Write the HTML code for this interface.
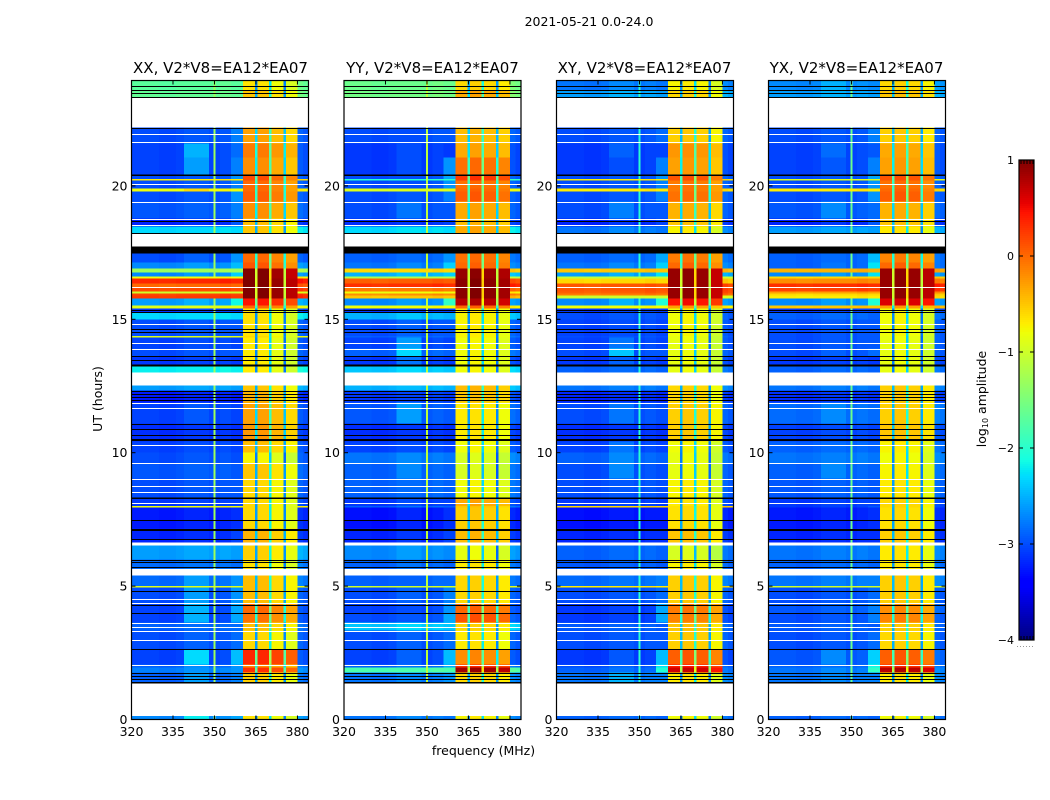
<!DOCTYPE html>
<html lang="en">
<head>
<meta charset="utf-8">
<title>2021-05-21 0.0-24.0</title>
<style>
html,body{margin:0;padding:0;background:#fff;width:1050px;height:800px;overflow:hidden}
svg{display:block}
text{font-family:"DejaVu Sans","Liberation Sans",sans-serif;fill:#000}
</style>
</head>
<body>
<svg id="chart" xmlns="http://www.w3.org/2000/svg" width="1050" height="800" viewBox="0 0 1050 800">
  <rect x="0" y="0" width="1050" height="800" fill="#fff"/>
  <text x="589" y="26" font-size="12.5" text-anchor="middle">2021-05-21 0.0-24.0</text>
  <text x="220.5" y="73" font-size="15" text-anchor="middle">XX, V2*V8=EA12*EA07</text>
  <text x="432.5" y="73" font-size="15" text-anchor="middle">YY, V2*V8=EA12*EA07</text>
  <text x="644.5" y="73" font-size="15" text-anchor="middle">XY, V2*V8=EA12*EA07</text>
  <text x="856.5" y="73" font-size="15" text-anchor="middle">YX, V2*V8=EA12*EA07</text>
  <text x="0" y="0" font-size="12.5" text-anchor="middle" transform="translate(102 399) rotate(-90)">UT (hours)</text>
  <text x="483.5" y="755" font-size="12.5" text-anchor="middle">frequency (MHz)</text>
  <text x="0" y="0" font-size="12.5" text-anchor="middle" transform="translate(986 399) rotate(-90)">log<tspan font-size="8" dy="2">10</tspan><tspan dy="-2"> amplitude</tspan></text>
  <g id="panels"></g>
  <g id="colorbar"></g>
</svg>
<script>
// UT band edges (hours), top to bottom; each band has one level per profile below.
const utEdges = [23.95,23.58,23.32,22.18,21.59,21.06,20.42,20.26,20.20,19.90,19.79,19.41,18.78,18.48,18.21,17.47,17.13,16.91,16.76,16.61,16.53,16.34,16.21,16.04,15.97,15.89,15.78,15.52,15.41,15.25,14.99,14.37,14.31,13.90,13.60,13.23,13.00,12.52,12.33,11.88,11.10,10.42,10.01,9.59,9.03,8.32,8.00,7.94,7.16,6.64,6.52,6.00,5.64,5.40,5.00,4.95,4.35,3.97,3.63,3.33,2.62,2.07,1.95,1.76,1.35,0.13,0];

// Frequency column edges (MHz) and which profile each column reads.
const freqEdges = [320,324,330,336,339,343,348,349.6,350.4,352,356,360.4,364.7,365.5,369.8,370.7,375,375.8,380,382,384];
const columnKinds = ['low','low','low','low','blob','blob','low','vline','low','low','edge','winA','gap','winB','gap','winC','gap','winD','tail','tail'];
const columnOffsets = [0,0,-0.03,0,0,0,0,0,0,0.05,-0.35,0,-1.9,0,-1.5,0,-2,0,0.12,0.05];

// Estimated log10 amplitude per band.
const xxLow = [-1.7,-1.65,null,-3,-3.05,-3.05,-3,-.7,-3,-.8,
 -3,-2.95,-3.2,-2.3,null,-3,-2.7,-1.3,-2.7,-.8,
 .35,0,.15,-1,.2,.25,-2.6,-.9,-3.1,-2.3,
 -3,-.9,-3.05,-3,-3.1,-2.2,null,-2.6,-3.25,-3.05,
 -3.15,-3.05,-3,-2.95,-3,-3.1,-.8,-3.25,-3.2,null,
 -2.6,-2.85,null,-2.85,-.9,-3,-3.05,-3.05,-2.9,-3,
 -3.05,-2.9,-2.75,-2.9,null,-2.7];
const xxBlob = [-1.7,-1.65,null,-2.95,-2.5,-2.6,-2.95,-.7,-2.95,-.6,
 -2.95,-2.9,-3.15,-2.3,null,-2.9,-2.6,-1.3,-2.6,-.8,
 .35,0,.15,-1,.2,.25,-2.5,-.9,-3.05,-2.3,
 -2.95,-.9,-3,-2.95,-3.05,-2.2,null,-2.55,-3.2,-2.95,
 -3.1,-3,-2.95,-2.9,-2.95,-3.05,-.8,-3.2,-3.15,null,
 -2.55,-2.8,null,-2.6,-.9,-2.6,-2.5,-2.5,-2.85,-2.9,
 -2.3,-2.7,-2.65,-2.6,null,-2.2];
const xxEdge = [-1.7,-1.65,null,-2.4,-2.5,-2.4,-2.3,-1.5,-2.4,-1.8,
 -2.3,-2.4,-2.6,-2,null,-2.3,-2.1,-1.3,-2,-.8,
 .3,0,.15,-.7,.2,.2,-1.8,-.8,-2.7,-2.2,
 -2.6,-2,-2.7,-2.6,-2.9,-2.2,null,-2.5,-2.9,-2.7,
 -2.8,-2.7,-2.7,-2.6,-2.6,-2.7,-1.5,-2.8,-2.7,null,
 -2.4,-2.6,null,-2.3,-1.5,-2.3,-2.2,-2.2,-2.5,-2.5,
 -2.1,-2.3,-2.3,-2.4,null,-2.2];
const xxWin = [-.75,-.6,null,-.4,-.2,-.3,.05,.05,-.1,-.1,
 -.05,-.3,-.55,-.6,null,-.1,0,.9,.9,.9,
 .95,.95,.95,.95,.95,.95,.35,-.1,-.75,-.75,
 -.75,-.7,-.8,-.8,-.8,-.8,null,-.6,-.5,-.4,
 -.35,-.55,-.85,-.6,-.7,-.7,-.7,-.7,-.5,null,
 -.65,-.75,null,-.55,-.55,-.55,-.1,-.15,-.55,-.7,
 .25,-.3,.2,-.65,null,-.75];

const yyLow = [-1.6,-1.55,null,-3,-3.1,-3.1,-3,-2,-3,-.9,
 -3,-3,-3.15,-2.3,null,-2.9,-2.8,-.6,-2.5,-1.2,
 .05,.3,-.1,-.8,-.2,-.5,-2.7,-.8,-3.1,-2.5,
 -3,-2.9,-3.05,-2.9,-3.1,-2.4,null,-2.5,-3.1,-2.95,
 -3.15,-3.05,-2.8,-2.9,-2.9,-3.1,-2.9,-3.3,-3.2,null,
 -2.7,-2.9,null,-2.9,-1,-3,-3.05,-3,-2.4,-3,
 -3.05,-2.9,-1.8,-2.8,null,-2.8];
const yyBlob = [-1.6,-1.55,null,-3,-3,-3,-3,-2,-3,-.9,
 -2.95,-2.8,-3.1,-2.25,null,-2.85,-2.7,-.6,-2.4,-1.2,
 .05,.3,-.1,-.8,-.2,-.5,-2.6,-.8,-3.05,-2.4,
 -2.9,-2.8,-2.6,-2.3,-2.8,-2.3,null,-2.45,-3.05,-2.6,
 -3.1,-3,-2.7,-2.7,-2.85,-3,-2.8,-3.2,-3.1,null,
 -2.6,-2.8,null,-2.9,-1,-2.9,-3,-2.95,-2.3,-2.9,
 -2.9,-2.8,-1.8,-2.7,null,-2.7];
const yyEdge = [-1.6,-1.55,null,-2.6,-2.8,-2.3,-2.2,-1.9,-2.3,-1.6,
 -2.4,-2.6,-2.7,-2.2,null,-2.3,-2,-.8,-2,-1.1,
 .1,.3,-.1,-.7,-.2,-.4,-1.6,-.7,-2.7,-2.4,
 -2.6,-2.6,-2.7,-2.6,-2.9,-2.3,null,-2.4,-2.8,-2.6,
 -2.8,-2.7,-2.6,-2.6,-2.6,-2.7,-2.6,-2.8,-2.7,null,
 -2.5,-2.6,null,-2.5,-1.4,-2.4,-2.3,-2.2,-2.2,-2.5,
 -2.1,-2.2,-1.5,-2.3,null,-2.6];
const yyWin = [-.6,-.35,null,-.45,-.35,-.05,.25,.25,-.05,0,
 .05,-.35,-.45,-.35,null,-.05,0,.9,.9,.9,
 .95,.95,.95,.95,.95,.95,.75,0,-.7,-.75,
 -.75,-.75,-.8,-.8,-.8,-.8,null,-.45,-.5,-.7,
 -.7,-.8,-.95,-.95,-.8,-.35,-.5,-.55,-.45,null,
 -.85,-.7,null,-.6,-.6,-.6,0,.1,-.6,-.7,
 -.2,.3,.85,-.6,null,-.75];

const xyLow = [-2.8,-2.6,null,-3,-3.1,-3.1,-3,-.7,-3,-.7,
 -3,-3,-3.2,-2.8,null,-2.9,-2.8,-.5,-2.6,-1.1,
 -.6,.1,.1,.05,-.1,-1,-2.7,-.8,-3.1,-3,
 -3.05,-3,-3.05,-3,-3.1,-2.9,null,-2.8,-3.2,-3,
 -3.15,-3.05,-2.9,-3,-3,-3.1,-.6,-3.3,-3.2,null,
 -2.9,-2.95,null,-2.85,-.7,-3,-3.1,-3.1,-2.95,-3,
 -3.1,-3,-2.9,-2.8,null,-2.9];
const xyBlob = [-2.7,-2.5,null,-2.95,-2.9,-3,-2.95,-.7,-2.95,-.7,
 -2.95,-2.75,-3.1,-2.7,null,-2.85,-2.7,-.5,-2.5,-1.1,
 -.6,.1,.1,.05,-.1,-1,-2.5,-.8,-3.05,-2.95,
 -3,-2.95,-2.8,-2.4,-2.9,-2.85,null,-2.75,-3.15,-2.8,
 -3.1,-2.8,-2.7,-2.7,-2.95,-3.05,-.6,-3.25,-3.15,null,
 -2.85,-2.9,null,-2.8,-.7,-2.95,-3.05,-3.05,-2.9,-2.95,
 -2.95,-2.9,-2.8,-2.5,null,-2.85];
const xyEdge = [-2.7,-2.5,null,-2.5,-2.7,-2.4,-2.3,-1.6,-2.4,-1.5,
 -2.4,-2.6,-2.7,-2.5,null,-2.2,-2,-.8,-1.9,-1.1,
 -.5,.1,.1,.05,-.1,-.9,-1.7,-.7,-2.8,-2.8,
 -2.7,-2.7,-2.7,-2.6,-2.9,-2.7,null,-2.6,-2.9,-2.7,
 -2.9,-2.8,-2.6,-2.7,-2.7,-2.8,-1.6,-2.9,-2.8,null,
 -2.7,-2.7,null,-2.4,-2,-2.5,-2.2,-2.2,-2.6,-2.6,
 -2.1,-1.9,-1.7,-2.4,null,-2.7];
const xyWin = [-.75,-.6,null,-.55,-.25,-.3,.1,.1,-.1,-.1,
 -.05,-.4,-.5,-.75,null,-.1,0,.9,.9,.9,
 .9,.9,.9,.9,.9,.9,.45,-.3,-.8,-.8,
 -.8,-.85,-.85,-.85,-.85,-.85,null,-.6,-.6,-.55,
 -.55,-.8,-.85,-.85,-.75,-.7,-.65,-.65,-.5,null,
 -.95,-.75,null,-.55,-.55,-.55,-.1,-.15,-.5,-.55,
 .05,.4,.65,-.7,null,-.8];

const yxLow = [-2.7,-2.6,null,-3,-3.05,-3.05,-3,-.9,-3,-.7,
 -3,-2.95,-3.2,-2.6,null,-2.9,-2.9,-.4,-2.7,-.6,
 -.2,.3,.2,-.3,-.6,-.7,-2.7,-.5,-3.1,-2.9,
 -3,-3,-3,-3,-3.1,-2.9,null,-2.8,-3.15,-2.85,
 -3.05,-2.9,-2.8,-2.9,-2.95,-3.1,-3.1,-3.25,-3.2,null,
 -2.8,-2.9,null,-2.8,-1,-3,-2.95,-3,-2.95,-3,
 -2.95,-2.9,-2.8,-2.8,null,-2.9];
const yxBlob = [-2.5,-2.5,null,-2.95,-2.85,-2.95,-2.95,-.9,-2.95,-.7,
 -2.95,-2.7,-3.1,-2.55,null,-2.85,-2.8,-.4,-2.6,-.6,
 -.2,.3,.2,-.3,-.6,-.7,-2.6,-.5,-3.05,-2.85,
 -2.95,-2.95,-2.95,-2.9,-3.05,-2.85,null,-2.75,-3.1,-2.7,
 -3,-2.85,-2.75,-2.7,-2.9,-3.05,-3.05,-3.2,-3.15,null,
 -2.75,-2.85,null,-2.75,-1,-2.95,-2.9,-2.95,-2.9,-2.95,
 -2.7,-2.85,-2.7,-2.7,null,-2.85];
const yxEdge = [-2.6,-2.5,null,-2.4,-2.6,-2.4,-2.2,-1.6,-2.3,-1.3,
 -2.3,-2.5,-2.6,-2.3,null,-2.1,-1.9,-.6,-1.9,-.6,
 -.2,.3,.2,-.2,-.5,-.6,-1.7,-.4,-2.7,-2.7,
 -2.6,-2.6,-2.6,-2.5,-2.8,-2.6,null,-2.6,-2.8,-2.6,
 -2.8,-2.6,-2.6,-2.6,-2.6,-2.7,-2.6,-2.8,-2.8,null,
 -2.6,-2.6,null,-2.4,-2,-2.5,-2.4,-2.4,-2.6,-2.5,
 -2,-1.8,-1.6,-2.4,null,-2.6];
const yxWin = [-.6,-.5,null,-.55,-.35,-.3,.1,.1,-.05,0,
 .05,-.4,-.5,-.7,null,-.15,0,.9,.9,.9,
 .9,.9,.9,.9,.9,.9,.6,-.3,-.8,-.8,
 -.8,-.85,-.85,-.85,-.85,-.85,null,-.55,-.55,-.55,
 -.5,-.75,-.8,-.75,-.7,-.6,-.6,-.65,-.55,null,
 -.7,-.7,null,-.55,-.55,-.55,-.2,-.15,-.55,-.6,
 .05,.3,.75,-.7,null,-.8];

// Per-panel sub-window offsets [A,B,C,D] and level of the 350 MHz interference line.
const windowOffsets = [[.1,.1,-.05,-.2],[0,.05,0,-.1],[0,.05,0,-.2],[0,.05,0,-.15]];
const vlineLevels = [-1.3,-1.1,-2,-1.6];

// Flagged integrations (UT hours) common to all four panels.
const whiteLineUT = [21.95,21.63,20.08,19.39,18.76,18.54,16.20,14.83,14.12,13.88,11.86,11.67,10.27,9.60,9.02,8.76,8.54,8.10,4.50,4.36,3.61,3.48,3.33,2.98,2.05];
const blackLineUT = [23.74,23.60,23.48,23.32,22.16,20.41,18.67,18.22,15.36,15.26,14.64,14.51,13.61,13.49,12.33,12.21,12.08,11.96,11.08,10.90,10.68,10.52,10.46,8.29,7.49,7.15,7.09,6.78,5.99,5.90,5.71,4.83,4.31,3.98,2.64,1.75,1.63,1.50];
const blackSpanStart = [20.43,17.72,13.30,8.32,1.41];
const blackSpanEnd = [20.37,17.47,13.23,8.26,1.35];

// Axis ticks.
const utMax = 23.95;
const freqTicks = [320,335,350,365,380];
const utTicks = [0,5,10,15,20];
const colorbarTicks = [1,0,-1,-2,-3,-4];
const colorbarTickLabels = ['1','0','\u22121','\u22122','\u22123','\u22124'];
const panelNames = ['xx','yy','xy','yx'];

const profiles = [
  {low:xxLow,blob:xxBlob,edge:xxEdge,win:xxWin},
  {low:yyLow,blob:yyBlob,edge:yyEdge,win:yyWin},
  {low:xyLow,blob:xyBlob,edge:xyEdge,win:xyWin},
  {low:yxLow,blob:yxBlob,edge:yxEdge,win:yxWin}
];

const NS = 'http://www.w3.org/2000/svg';
const panelLeft = [131.5,344,556.5,768.5];
const panelWidth = 177;
const axisBottom = 719.5;
const hourPx = 26.68;
const axisTop = axisBottom - utMax * hourPx;
const cbLeft = 1019, cbRight = 1034, cbTop = 160, cbBottom = 640;

function xScale(p, mhz){ return panelLeft[p] + (mhz - 320) / 64 * panelWidth; }
function yScale(ut){ return axisBottom - ut * hourPx; }
function cbScale(v){ return cbBottom - (v + 4) / 5 * (cbBottom - cbTop); }
function ramp(f, pts){
  for (let i = 1; i < pts.length; i++) {
    if (f <= pts[i][0]) {
      const a = pts[i-1], b = pts[i];
      return a[1] + (b[1]-a[1]) * (f-a[0]) / (b[0]-a[0]);
    }
  }
  return pts[pts.length-1][1];
}
function jet(v){
  const f = Math.max(0, Math.min(1, (v + 4) / 5));
  const r = ramp(f, [[0,0],[.35,0],[.66,1],[.89,1],[1,.5]]);
  const g = ramp(f, [[0,0],[.125,0],[.375,1],[.64,1],[.91,0],[1,0]]);
  const b = ramp(f, [[0,.5],[.11,1],[.34,1],[.65,0],[1,0]]);
  return 'rgb(' + Math.round(r*255) + ',' + Math.round(g*255) + ',' + Math.round(b*255) + ')';
}
function mk(tag, attrs, parent){
  const el = document.createElementNS(NS, tag);
  for (const k in attrs) el.setAttribute(k, attrs[k]);
  parent.appendChild(el);
  return el;
}
function cellLevel(p, band, col){
  const prof = profiles[p], kind = columnKinds[col], off = columnOffsets[col];
  const low = prof.low[band];
  if (low === null) return null;
  if (kind === 'low' || kind === 'tail') return low + off;
  if (kind === 'blob') return prof.blob[band] + off;
  if (kind === 'edge') return Math.max(low, prof.edge[band] + off);
  if (kind === 'vline') return Math.max(low, vlineLevels[p]);
  if (kind === 'gap') return prof.win[band] + off;
  const idx = {winA:0,winB:1,winC:2,winD:3}[kind];
  return prof.win[band] + windowOffsets[p][idx];
}

const panelsRoot = document.getElementById('panels');
panelNames.forEach(function(name, p){
  const g = mk('g', {}, panelsRoot);
  
  

  for (let band = 0; band < utEdges.length - 1; band++) {
    for (let col = 0; col < freqEdges.length - 1; col++) {
      const v = cellLevel(p, band, col);
      if (v === null) continue;
      const cell = mk('rect', {
        x: xScale(p, freqEdges[col]),
        y: yScale(utEdges[band]),
        width: xScale(p, freqEdges[col+1]) - xScale(p, freqEdges[col]),
        height: yScale(utEdges[band+1]) - yScale(utEdges[band]),
        fill: jet(v),
        'shape-rendering': 'crispEdges'
      }, g);
      
      
    }
  }

  whiteLineUT.forEach(function(ut){
    const line = mk('rect', {x: xScale(p,320), y: Math.round(yScale(ut)), width: panelWidth, height: 1, fill: '#fff', 'shape-rendering': 'crispEdges'}, g);
    
    
  });
  blackLineUT.forEach(function(ut){
    const line = mk('rect', {x: xScale(p,320), y: Math.round(yScale(ut)), width: panelWidth, height: 1, fill: '#000', 'shape-rendering': 'crispEdges'}, g);
    
    
  });
  blackSpanStart.forEach(function(ut, i){
    const span = mk('rect', {x: xScale(p,320), y: yScale(ut), width: panelWidth, height: yScale(blackSpanEnd[i]) - yScale(ut), fill: '#000', 'shape-rendering': 'crispEdges'}, g);
    
    
  });

  const frame = mk('rect', {x: xScale(p,320), y: axisTop, width: panelWidth, height: axisBottom - axisTop, fill: 'none', stroke: '#000', 'stroke-width': 1.2}, g);
  
  

  freqTicks.forEach(function(f){
    const x = xScale(p, f);
    const bottomTick = mk('line', {x1: x, x2: x, y1: axisBottom, y2: axisBottom - 4, stroke: '#000', 'stroke-width': 1}, g);
    
    
    const topTick = mk('line', {x1: x, x2: x, y1: axisTop, y2: axisTop + 4, stroke: '#000', 'stroke-width': 1}, g);
    
    
    const label = mk('text', {x: x, y: 736, 'font-size': 12.5, 'text-anchor': 'middle'}, g);
    label.textContent = String(f);
    
    
  });
  utTicks.forEach(function(ut){
    const y = yScale(ut);
    const leftTick = mk('line', {x1: panelLeft[p], x2: panelLeft[p] + 4, y1: y, y2: y, stroke: '#000', 'stroke-width': 1}, g);
    
    
    const rightTick = mk('line', {x1: panelLeft[p] + panelWidth, x2: panelLeft[p] + panelWidth - 4, y1: y, y2: y, stroke: '#000', 'stroke-width': 1}, g);
    
    
    const label = mk('text', {x: panelLeft[p] - 4, y: y + 4.5, 'font-size': 12.5, 'text-anchor': 'end'}, g);
    label.textContent = String(ut);
    
    
  });
});

const cb = document.getElementById('colorbar');
for (let py = cbTop; py < cbBottom; py += 2) {
  const v = 1 - (py + 1 - cbTop) / (cbBottom - cbTop) * 5;
  const step = mk('rect', {x: cbLeft, y: py, width: cbRight - cbLeft, height: 2, fill: jet(v), 'shape-rendering': 'crispEdges'}, cb);
  
  
}
const cbFrame = mk('rect', {x: cbLeft, y: cbTop, width: cbRight - cbLeft, height: cbBottom - cbTop, fill: 'none', stroke: '#000', 'stroke-width': 1.2}, cb);


colorbarTicks.forEach(function(v, i){
  const y = cbScale(v);
  const l = mk('line', {x1: cbLeft, x2: cbLeft + 4, y1: y, y2: y, stroke: '#000', 'stroke-width': 1}, cb);
  
  
  const r = mk('line', {x1: cbRight, x2: cbRight - 4, y1: y, y2: y, stroke: '#000', 'stroke-width': 1}, cb);
  
  
  const label = mk('text', {x: cbLeft - 5, y: y + 4, 'font-size': 11, 'text-anchor': 'end'}, cb);
  label.textContent = colorbarTickLabels[i];
  
  
});
[2,5,8,11,14].forEach(function(dx){
  const t = mk('line', {x1: cbLeft + dx, x2: cbLeft + dx, y1: cbTop, y2: cbTop + 4, stroke: '#000', 'stroke-width': 1}, cb);
  
  
  const b = mk('line', {x1: cbLeft + dx, x2: cbLeft + dx, y1: cbBottom, y2: cbBottom - 4, stroke: '#000', 'stroke-width': 1}, cb);
  
  
});
const cbDots = mk('line', {x1: 1017, x2: 1035, y1: 646.5, y2: 646.5, stroke: '#999', 'stroke-width': 1, 'stroke-dasharray': '1 2'}, cb);


</script>
</body>
</html>
